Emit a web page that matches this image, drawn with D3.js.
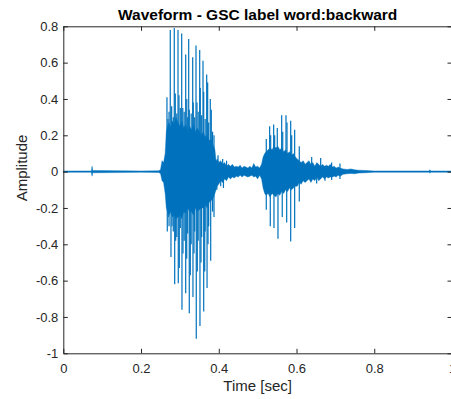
<!DOCTYPE html>
<html><head><meta charset="utf-8">
<script src="https://cdn.jsdelivr.net/npm/d3@7"></script>
<style>html,body{margin:0;padding:0;background:#fff;overflow:hidden}svg{display:block}</style>
</head><body>
<script>
// ---- data ----
const xTicks = [0, 0.2, 0.4, 0.6, 0.8, 1];
const xTickLabels = ["0", "0.2", "0.4", "0.6", "0.8", "1"];
const yTicks = [-1, -0.8, -0.6, -0.4, -0.2, 0, 0.2, 0.4, 0.6, 0.8];
const yTickLabels = ["-1", "-0.8", "-0.6", "-0.4", "-0.2", "0", "0.2", "0.4", "0.6", "0.8"];

// dense band (envelope) of the waveform: time [s], upper, lower
const envT  = [0,0.072,0.074,0.076,0.09,0.2,0.245,0.250,0.254,0.258,0.262,0.265,0.268,0.272,0.276,0.280,0.285,0.290,0.295,0.300,0.305,0.310,0.315,0.320,0.325,0.330,0.335,0.340,0.345,0.350,0.355,0.360,0.365,0.370,0.375,0.380,0.385,0.390,0.393,0.396,0.400,0.405,0.410,0.415,0.420,0.425,0.430,0.435,0.440,0.445,0.450,0.455,0.460,0.465,0.470,0.475,0.480,0.485,0.490,0.495,0.500,0.505,0.510,0.514,0.518,0.522,0.527,0.532,0.537,0.542,0.547,0.552,0.557,0.562,0.567,0.572,0.577,0.582,0.587,0.592,0.597,0.602,0.607,0.612,0.617,0.622,0.627,0.632,0.637,0.642,0.647,0.652,0.657,0.662,0.667,0.672,0.677,0.682,0.687,0.692,0.697,0.702,0.707,0.712,0.720,0.730,0.740,0.750,0.760,0.780,0.800,0.940,0.943,0.946,1.0];
const envHi = [0.004,0.004,0.03,0.006,0.006,0.004,0.005,0.01,0.06,0.05,0.10,0.22,0.25,0.27,0.24,0.28,0.26,0.30,0.27,0.25,0.28,0.24,0.26,0.22,0.25,0.23,0.26,0.22,0.24,0.22,0.20,0.22,0.19,0.20,0.17,0.18,0.15,0.12,0.06,0.07,0.05,0.06,0.04,0.05,0.03,0.04,0.03,0.04,0.025,0.03,0.025,0.035,0.02,0.03,0.025,0.02,0.03,0.02,0.045,0.025,0.03,0.02,0.04,0.08,0.10,0.11,0.12,0.13,0.12,0.14,0.13,0.14,0.12,0.13,0.11,0.12,0.10,0.11,0.09,0.10,0.08,0.07,0.06,0.05,0.06,0.04,0.05,0.06,0.04,0.05,0.03,0.05,0.04,0.03,0.04,0.03,0.035,0.03,0.04,0.025,0.03,0.02,0.025,0.02,0.015,0.012,0.015,0.01,0.008,0.006,0.004,0.004,0.01,0.004,0.004];
const envLo = [-0.004,-0.004,-0.025,-0.006,-0.006,-0.004,-0.005,-0.01,-0.05,-0.06,-0.12,-0.20,-0.22,-0.24,-0.22,-0.25,-0.24,-0.26,-0.25,-0.24,-0.26,-0.22,-0.23,-0.20,-0.22,-0.22,-0.24,-0.20,-0.22,-0.21,-0.20,-0.20,-0.18,-0.20,-0.17,-0.16,-0.15,-0.12,-0.10,-0.08,-0.07,-0.05,-0.06,-0.04,-0.05,-0.03,-0.04,-0.03,-0.035,-0.025,-0.03,-0.02,-0.03,-0.02,-0.025,-0.03,-0.025,-0.02,-0.03,-0.025,-0.04,-0.02,-0.04,-0.09,-0.12,-0.13,-0.12,-0.14,-0.12,-0.13,-0.14,-0.12,-0.13,-0.11,-0.12,-0.10,-0.11,-0.09,-0.10,-0.09,-0.08,-0.08,-0.06,-0.07,-0.05,-0.06,-0.05,-0.04,-0.06,-0.04,-0.05,-0.03,-0.05,-0.04,-0.03,-0.04,-0.03,-0.035,-0.03,-0.03,-0.025,-0.03,-0.02,-0.025,-0.015,-0.012,-0.01,-0.012,-0.008,-0.006,-0.004,-0.004,-0.008,-0.004,-0.004];

// individual positive peaks: time [s], amplitude
const peakT = [0.2667,0.2693,0.2720,0.2752,0.2788,0.2830,0.2855,0.2881,0.2920,0.2951,0.2976,0.3010,0.3046,0.3074,0.3110,0.3149,0.3177,0.3200,0.3226,0.3241,0.3290,0.3329,0.3344,0.3380,0.3414,0.3439,0.3470,0.3509,0.3524,0.3560,0.3594,0.3612,0.3650,0.3689,0.3714,0.3740,0.3781,0.3807,0.3840,0.3877,0.398,0.410,0.420,0.5222,0.5309,0.5335,0.5412,0.5438,0.5505,0.5618,0.5645,0.5729,0.5755,0.5850,0.5876,0.5952,0.6071,0.6184,0.6390,0.6621,0.6904,0.7118];
const peakV = [0.41,0.29,0.33,0.78,0.36,0.30,0.79,0.43,0.32,0.78,0.42,0.35,0.76,0.35,0.33,0.645,0.40,0.30,0.73,0.34,0.32,0.63,0.38,0.30,0.695,0.38,0.33,0.67,0.46,0.31,0.61,0.44,0.29,0.535,0.49,0.27,0.40,0.34,0.22,0.20,0.09,0.07,0.06,0.18,0.25,0.20,0.26,0.20,0.24,0.31,0.22,0.31,0.27,0.28,0.20,0.23,0.14,0.05,0.08,0.075,0.05,0.045];

// individual negative troughs: time [s], amplitude
const troughT = [0.2675,0.2701,0.2720,0.2770,0.2796,0.2830,0.2866,0.2891,0.2920,0.2958,0.2984,0.3010,0.3053,0.3079,0.3110,0.3149,0.3175,0.3200,0.3241,0.3267,0.3290,0.3336,0.3362,0.3380,0.3421,0.3447,0.3470,0.3516,0.3542,0.3560,0.3612,0.3638,0.3650,0.3698,0.3723,0.3740,0.3792,0.3840,0.3877,0.395,0.405,0.412,0.5222,0.5325,0.5420,0.5523,0.5633,0.5747,0.5850,0.5952,0.6071,0.6210,0.6518,0.6732,0.6904,0.7118];
const troughV = [-0.33,-0.25,-0.30,-0.47,-0.30,-0.33,-0.62,-0.38,-0.36,-0.615,-0.53,-0.31,-0.76,-0.45,-0.38,-0.67,-0.48,-0.34,-0.78,-0.57,-0.40,-0.69,-0.45,-0.33,-0.92,-0.55,-0.38,-0.85,-0.50,-0.36,-0.77,-0.55,-0.33,-0.64,-0.40,-0.30,-0.49,-0.22,-0.25,-0.10,-0.08,-0.09,-0.21,-0.30,-0.31,-0.37,-0.25,-0.28,-0.385,-0.31,-0.165,-0.055,-0.065,-0.05,-0.046,-0.04];

// ---- drawing ----
const W = 451, H = 399;
const ink = "#262626", blue = "#0072BD";
const font = "'Liberation Sans', Arial, Helvetica, sans-serif";
const x = d3.scaleLinear().domain([0, 1]).range([63.3, 452]);
const y = d3.scaleLinear().domain([-1, 0.8]).range([353.3, 26.3]);

const svg = d3.select("body").append("svg").attr("width", W).attr("height", H)
  .style("font-family", font);

const plot = svg.append("g");
const env = envT.map((t, i) => ({t, hi: envHi[i], lo: envLo[i]}));
plot.append("path").datum(env)
  .attr("fill", blue).attr("stroke", blue).attr("stroke-width", 0.4)
  .attr("d", d3.area().x(d => x(d.t)).y0(d => y(d.lo)).y1(d => y(d.hi)));

const peaks = peakT.map((t, i) => ({t, v: peakV[i]}));
const troughs = troughT.map((t, i) => ({t, v: troughV[i]}));
plot.selectAll("line.pk").data(peaks.concat(troughs)).join("line")
  .attr("x1", d => x(d.t)).attr("x2", d => x(d.t))
  .attr("y1", y(0)).attr("y2", d => y(d.v))
  .attr("stroke", blue).attr("stroke-width", 1.2);

// axes (inward ticks, box)
function styleAxis(g) {
  g.selectAll("path.domain").attr("stroke", ink).attr("stroke-width", 1);
  g.selectAll(".tick line").attr("stroke", ink).attr("stroke-width", 1);
  g.selectAll(".tick text").attr("fill", ink).style("font-size", "13px").style("font-family", font);
}
const fx = d => xTickLabels[xTicks.indexOf(d)];
const fy = d => yTickLabels[yTicks.indexOf(d)];

svg.append("g").attr("transform", `translate(0,${y(-1)})`)
  .call(d3.axisBottom(x).tickValues(xTicks).tickFormat(fx).tickSizeInner(-4.5).tickSizeOuter(0).tickPadding(10))
  .call(styleAxis);
svg.append("g").attr("transform", `translate(0,${y(0.8)})`)
  .call(d3.axisTop(x).tickValues(xTicks).tickFormat("").tickSizeInner(-4.5).tickSizeOuter(0))
  .call(styleAxis);
svg.append("g").attr("transform", `translate(${x(0)},0)`)
  .call(d3.axisLeft(y).tickValues(yTicks).tickFormat(fy).tickSizeInner(-4.5).tickSizeOuter(0).tickPadding(5))
  .call(styleAxis);
svg.append("g").attr("transform", `translate(${x(1)},0)`)
  .call(d3.axisRight(y).tickValues(yTicks).tickFormat("").tickSizeInner(-4.5).tickSizeOuter(0))
  .call(styleAxis);
svg.selectAll(".tick text").attr("font-family", null);

// texts
svg.append("text").attr("x", (x(0) + x(1)) / 2).attr("y", 19.5)
  .attr("text-anchor", "middle").attr("fill", "#000").style("font-weight", "bold")
  .style("font-size", "15.5px").text("Waveform - GSC label word:backward");
svg.append("text").attr("x", (x(0) + x(1)) / 2).attr("y", 390.5)
  .attr("text-anchor", "middle").attr("fill", ink)
  .style("font-size", "15px").text("Time [sec]");
svg.append("text").attr("transform", `translate(27,${y(0.02)}) rotate(-90)`)
  .attr("text-anchor", "middle").attr("fill", ink)
  .style("font-size", "15px").text("Amplitude");
</script>
</body></html>
